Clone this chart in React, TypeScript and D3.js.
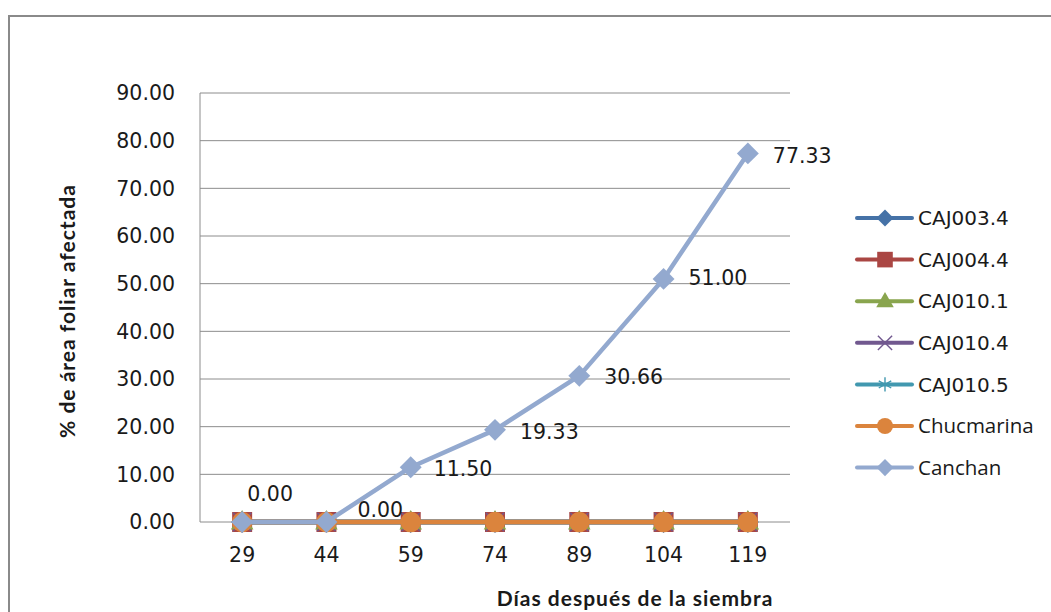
import React from "react";
import * as d3 from "d3";

// Days after sowing
const days = ["29", "44", "59", "74", "89", "104", "119"];
// Y axis ticks (% of leaf area affected)
const yTicks = [0, 10, 20, 30, 40, 50, 60, 70, 80, 90];

// Series values, one per variety
const caj0034 = [0, 0, 0, 0, 0, 0, 0];
const caj0044 = [0, 0, 0, 0, 0, 0, 0];
const caj0101 = [0, 0, 0, 0, 0, 0, 0];
const caj0104 = [0, 0, 0, 0, 0, 0, 0];
const caj0105 = [0, 0, 0, 0, 0, 0, 0];
const chucmarina = [0, 0, 0, 0, 0, 0, 0];
const canchan = [0, 0, 11.5, 19.33, 30.66, 51.0, 77.33];

const seriesNames = ["CAJ003.4", "CAJ004.4", "CAJ010.1", "CAJ010.4", "CAJ010.5", "Chucmarina", "Canchan"];
const seriesValues = [caj0034, caj0044, caj0101, caj0104, caj0105, chucmarina, canchan];

type MarkerKind = "diamond" | "square" | "triangle" | "times" | "asterisk" | "circle";
const markerKinds: MarkerKind[] = ["diamond", "square", "triangle", "times", "asterisk", "circle", "diamond"];
const colors = ["#4572A7", "#AA4643", "#89A54E", "#71588F", "#4198AF", "#DB843D", "#93A9CF"];
const legendFonts = ["DejaVu Sans", "DejaVu Sans", "DejaVu Sans", "DejaVu Sans", "DejaVu Sans", "Open Sans", "Open Sans"];

// Data-label nudges for the Canchan series (dx, dy from the point)
const labelNudge: [number, number][] = [
  [28, -28],
  [31, -12],
  [23, 1],
  [25, 2],
  [25, 1],
  [25, -1],
  [25, 2],
];

const W = 1051;
const H = 612;
const plot = { left: 200, right: 790, top: 93, bottom: 522 };

function Marker({ kind, x, y, color, scale }: { kind: MarkerKind; x: number; y: number; color: string; scale: number }) {
  const s2 = scale * scale;
  if (kind === "diamond") {
    const path = d3.symbol(d3.symbolSquare, 240 * s2)()!;
    return <path d={path} transform={`translate(${x},${y}) rotate(45)`} fill={color} />;
  }
  if (kind === "square") {
    const path = d3.symbol(d3.symbolSquare, 400 * s2)()!;
    return <path d={path} transform={`translate(${x},${y})`} fill={color} />;
  }
  if (kind === "triangle") {
    const path = d3.symbol(d3.symbolTriangle, 220 * s2)()!;
    return <path d={path} transform={`translate(${x},${y + 1})`} fill={color} />;
  }
  if (kind === "circle") {
    const path = d3.symbol(d3.symbolCircle, 330 * s2)()!;
    return <path d={path} transform={`translate(${x},${y})`} fill={color} />;
  }
  if (kind === "times") {
    const path = d3.symbol(d3.symbolTimes, 220 * s2)()!;
    return <path d={path} transform={`translate(${x},${y})`} fill="none" stroke={color} strokeWidth={1.4} />;
  }
  const path = d3.symbol(d3.symbolAsterisk, 240 * s2)()!;
  return <path d={path} transform={`translate(${x},${y})`} fill="none" stroke={color} strokeWidth={1.4} />;
}

export default function App() {
  const x = d3.scaleBand<string>().domain(days).range([plot.left, plot.right]).padding(0);
  const y = d3.scaleLinear().domain([0, 90]).range([plot.bottom, plot.top]);
  const cx = (d: string) => (x(d) as number) + x.bandwidth() / 2;

  const line = d3
    .line<number>()
    .x((_, i) => cx(days[i]))
    .y((v) => y(v));

  const legendX = 857;
  const legendY0 = 218;
  const legendStep = 41.6;

  return (
    <svg width={W} height={H} style={{ position: "absolute", left: 0, top: 0, background: "#fff" }}>
      <rect x={9} y={16} width={1200} height={800} fill="#fff" stroke="#8a8a8a" strokeWidth={2} />

      {/* gridlines */}
      {yTicks.map((t) => (
        <line key={t} x1={plot.left} x2={plot.right} y1={y(t)} y2={y(t)} stroke="#8c8c8c" strokeWidth={1} />
      ))}
      <line x1={plot.left} x2={plot.left} y1={plot.top} y2={plot.bottom} stroke="#8c8c8c" strokeWidth={1} />

      {/* y tick labels */}
      {yTicks.map((t) => (
        <text
          key={"l" + t}
          x={175}
          y={y(t)}
          dy="0.36em"
          textAnchor="end"
          fontFamily="DejaVu Sans"
          fontSize={20.5}
          fill="#1a1a1a"
        >
          {d3.format(".2f")(t)}
        </text>
      ))}

      {/* x tick labels */}
      {days.map((d) => (
        <text key={"x" + d} x={cx(d)} y={562} textAnchor="middle" fontFamily="DejaVu Sans" fontSize={20.5} fill="#1a1a1a">
          {d}
        </text>
      ))}

      {/* axis titles */}
      <text
        x={635}
        y={606}
        textAnchor="middle"
        fontFamily="Lato"
        fontWeight="bold"
        fontSize={21}
        letterSpacing={1}
        fill="#1a1a1a"
      >
        Días después de la siembra
      </text>
      <text
        transform="translate(75,311) rotate(-90)"
        textAnchor="middle"
        fontFamily="Lato"
        fontWeight="bold"
        fontSize={21}
        letterSpacing={1}
        fill="#1a1a1a"
      >
        % de área foliar afectada
      </text>

      {/* series */}
      {seriesValues.map((vals, si) => (
        <g key={seriesNames[si]}>
          <path d={line(vals)!} fill="none" stroke={colors[si]} strokeWidth={4.5} strokeLinejoin="round" />
          {vals.map((v, i) => (
            <Marker key={i} kind={markerKinds[si]} x={cx(days[i])} y={y(v)} color={colors[si]} scale={1} />
          ))}
        </g>
      ))}

      {/* data labels for Canchan */}
      {canchan.map((v, i) => {
        const [dx, dy] = labelNudge[i];
        return (
          <text
            key={"dl" + i}
            x={cx(days[i]) + dx}
            y={y(v) + dy}
            dy="0.36em"
            textAnchor={i === 0 ? "middle" : "start"}
            fontFamily="DejaVu Sans"
            fontSize={20.5}
            fill="#1a1a1a"
          >
            {d3.format(".2f")(v)}
          </text>
        );
      })}

      {/* legend */}
      {seriesNames.map((name, i) => {
        const ly = legendY0 + i * legendStep;
        return (
          <g key={"lg" + name}>
            <line x1={legendX} x2={legendX + 55} y1={ly} y2={ly} stroke={colors[i]} strokeWidth={4} strokeLinecap="round" />
            <Marker kind={markerKinds[i]} x={legendX + 28} y={ly} color={colors[i]} scale={0.78} />
            <text x={918} y={ly} dy="0.36em" fontFamily={legendFonts[i]} fontSize={i < 5 ? 20 : 20.5} fill="#1a1a1a">
              {name}
            </text>
          </g>
        );
      })}
    </svg>
  );
}
